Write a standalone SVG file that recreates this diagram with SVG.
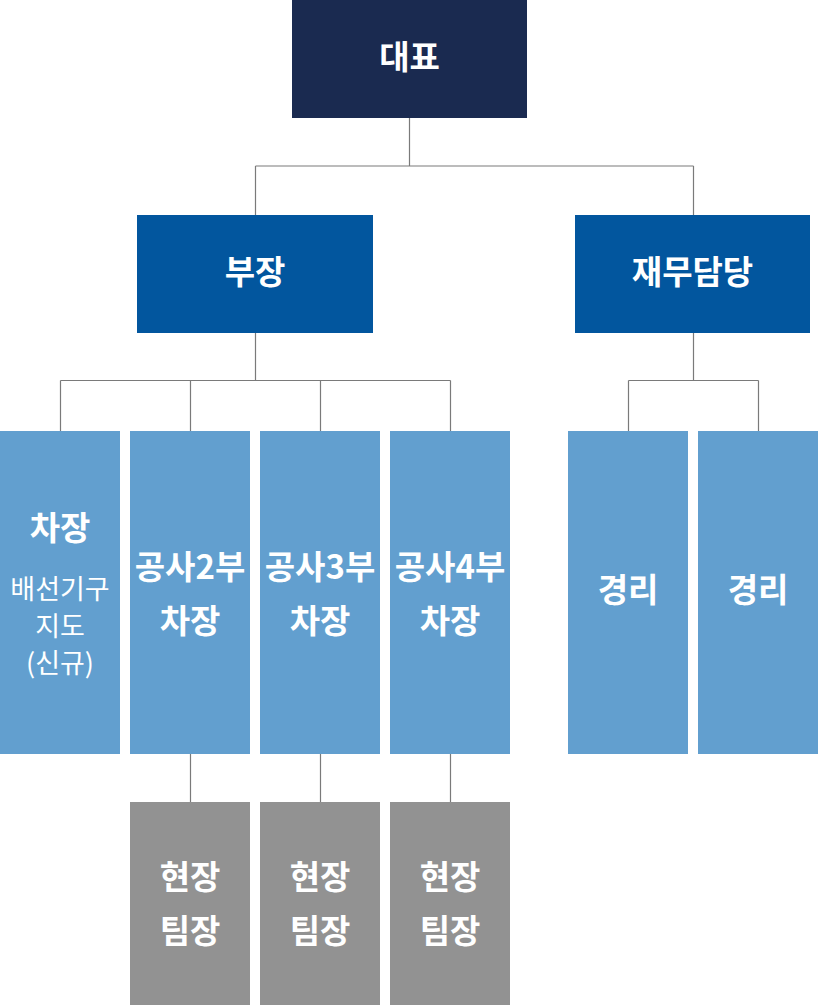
<svg xmlns="http://www.w3.org/2000/svg" width="818" height="1005" viewBox="0 0 818 1005">
<style>
.t{font-family:"Noto Sans CJK KR","Noto Sans",sans-serif;fill:#fff;text-anchor:middle;dominant-baseline:central}
.b{font-weight:700;font-size:33px}
.r{font-weight:400;font-size:27px}
.ln{stroke:#7a7a7a;stroke-width:1.2;fill:none}
.top{fill:#1a2a50}
.mid{fill:#02569e}
.lt{fill:#629fcf}
.gr{fill:#929292}
</style>
<g id="connectors">
<path class="ln" d="M409.5 118V166M255.5 166H693.5M255.5 166V215M693.5 166V215"/>
<path class="ln" d="M255.5 333V380.5M60.5 380.5H450.5M60.5 380.5V431M190.5 380.5V431M320.5 380.5V431M450.5 380.5V431"/>
<path class="ln" d="M693.5 333V380.5M628.5 380.5H758.5M628.5 380.5V431M758.5 380.5V431"/>
<path class="ln" d="M190.5 754V802M320.5 754V802M450.5 754V802"/>
</g>
<g id="n-ceo"><rect class="top" x="292" y="0" width="235" height="118"/><text class="t b" x="409.5" y="55">대표</text></g>
<g id="n-bujang"><rect class="mid" x="137" y="215" width="236" height="118"/><text class="t b" x="255" y="270">부장</text></g>
<g id="n-finance"><rect class="mid" x="575" y="215" width="235" height="118"/><text class="t b" x="692.5" y="270">재무담당</text></g>
<g id="n-chajang"><rect class="lt" x="0" y="431" width="120" height="323"/><text class="t b" x="60" y="526">차장</text><text class="t r" x="60" y="587">배선기구</text><text class="t r" x="60" y="624">지도</text><text class="t r" x="60" y="661">(신규)</text></g>
<g id="n-gs2"><rect class="lt" x="130" y="431" width="120" height="323"/><text class="t b" x="190" y="565">공사2부</text><text class="t b" x="190" y="619">차장</text></g>
<g id="n-gs3"><rect class="lt" x="260" y="431" width="120" height="323"/><text class="t b" x="320" y="565">공사3부</text><text class="t b" x="320" y="619">차장</text></g>
<g id="n-gs4"><rect class="lt" x="390" y="431" width="120" height="323"/><text class="t b" x="450" y="565">공사4부</text><text class="t b" x="450" y="619">차장</text></g>
<g id="n-acc1"><rect class="lt" x="568" y="431" width="120" height="323"/><text class="t b" x="628" y="588">경리</text></g>
<g id="n-acc2"><rect class="lt" x="698" y="431" width="120" height="323"/><text class="t b" x="758" y="588">경리</text></g>
<g id="n-team2"><rect class="gr" x="130" y="802" width="120" height="203"/><text class="t b" x="190" y="875">현장</text><text class="t b" x="190" y="929">팀장</text></g>
<g id="n-team3"><rect class="gr" x="260" y="802" width="120" height="203"/><text class="t b" x="320" y="875">현장</text><text class="t b" x="320" y="929">팀장</text></g>
<g id="n-team4"><rect class="gr" x="390" y="802" width="120" height="203"/><text class="t b" x="450" y="875">현장</text><text class="t b" x="450" y="929">팀장</text></g>
</svg>
